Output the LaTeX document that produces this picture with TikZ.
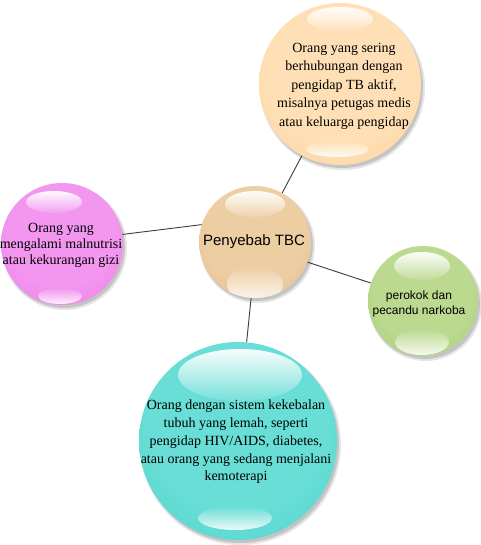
\documentclass[tikz,border=0pt]{standalone}
\usepackage{fontspec}
\setmainfont{Liberation Serif}
\newfontfamily\arialf{Liberation Sans}
\definecolor{oraIn}{RGB}{255,224,182}
\definecolor{oraOut}{RGB}{246,198,140}
\definecolor{cenIn}{RGB}{237,206,163}
\definecolor{cenOut}{RGB}{219,174,122}
\definecolor{magIn}{RGB}{243,150,240}
\definecolor{magOut}{RGB}{226,108,220}
\definecolor{grnIn}{RGB}{188,217,144}
\definecolor{grnOut}{RGB}{158,197,104}
\definecolor{cyaIn}{RGB}{104,222,214}
\definecolor{cyaOut}{RGB}{62,203,195}
\definecolor{connc}{RGB}{60,60,60}
\colorlet{ballin}{white}
\colorlet{ballout}{gray}
\pgfdeclareradialshading[ballin,ballout]{glossy}{\pgfpoint{0bp}{8bp}}{color(0bp)=(ballin); color(22bp)=(ballin); color(50bp)=(ballout)}
\tikzset{
  ballnode/.style={circle, inner sep=0pt, shading=glossy},
  conn/.style={draw=connc, line width=0.9pt},
  sertext/.style={align=center, inner sep=0pt, font=\fontsize{14}{18.5}\selectfont},
  sanstext/.style={align=center, inner sep=0pt, font=\arialf\fontsize{12}{15}\selectfont},
}
% #1 name, #2 x, #3 y, #4 r, #5 inner, #6 outer
\newcommand\glossball[6]{%
  \fill[black,opacity=0.10] (#2+2.5,#3+3.5) circle[radius=#4pt+1.5pt];
  \fill[black,opacity=0.14] (#2+2,#3+3) circle[radius=#4pt];
  \colorlet{ballin}{#5}\colorlet{ballout}{#6}%
  \node[ballnode, minimum size=2*#4pt] (#1) at (#2,#3) {};
}
% top highlight: x y rx ry color
\newcommand\hltop[5]{%
  \shade[top color=white, middle color=white!55!#5, bottom color=#5!90!white, opacity=0.95] (#1,#2) ellipse[x radius=#3pt, y radius=#4pt];
}
% bottom highlight: node, x y rx ry color
\newcommand\hlbot[6]{%
  \begin{scope}
    \clip (#1.center) circle[radius=\csname hlr#1\endcsname pt];
    \shade[top color=#6, bottom color=white!92!#6, opacity=0.95] (#2,#3) ellipse[x radius=#4pt, y radius=#5pt];
  \end{scope}
}
\def\hlrora{81}\def\hlrcen{56}\def\hlrmag{61}\def\hlrgrn{55}\def\hlrcya{99}
\begin{document}
\begin{tikzpicture}[x=1pt,y=-1pt]
\fill[white] (0,0) rectangle (480,545);
\useasboundingbox (0,0) rectangle (480,545);

\glossball{ora}{340}{84}{81}{oraIn}{oraOut}
\glossball{mag}{62}{244}{61}{magIn}{magOut}
\glossball{grn}{423}{301}{55}{grnIn}{grnOut}
\glossball{cya}{238}{441}{99}{cyaIn}{cyaOut}
\glossball{cen}{255}{242}{56}{cenIn}{cenOut}

\hltop{340}{19}{33}{12}{oraIn}
\hlbot{ora}{337}{149}{31}{8}{oraIn}
\hltop{255}{204}{30}{13}{cenIn}
\hlbot{cen}{255}{284}{28}{18}{cenIn}
\hltop{54}{202}{28}{11}{magIn}
\hlbot{mag}{60}{296}{22}{8}{magIn}
\hltop{422}{266}{28}{14}{grnIn}
\hlbot{grn}{422}{342}{27}{13}{grnIn}
\hltop{240}{375}{62}{26}{cyaIn}
\hlbot{cya}{235}{518}{37}{12}{cyaIn}

\draw[conn] (mag.9) -- (cen.162);
\draw[conn] (cen.61) -- (ora.242);
\draw[conn] (cen.-21) -- (grn.161);
\draw[conn] (cen.-94) -- (cya.85);

\node[sertext] (tora) at (344,86) {Orang yang sering\\berhubungan dengan\\pengidap TB aktif,\\misalnya petugas medis\\atau keluarga pengidap};
\node[sertext, font=\fontsize{14}{16}\selectfont] (tmag) at (61,245) {Orang yang\\mengalami malnutrisi\\atau kekurangan gizi};
\node[sertext, font=\fontsize{14}{17.8}\selectfont] (tcya) at (236,442) {Orang dengan sistem kekebalan\\tubuh yang lemah, seperti\\pengidap HIV/AIDS, diabetes,\\atau orang yang sedang menjalani\\kemoterapi};
\node[sanstext] (tgrn) at (419,304) {perokok dan\\pecandu narkoba};
\node[sanstext, font=\arialf\fontsize{15}{18}\selectfont] (tcen) at (254,242) {Penyebab TBC};
\end{tikzpicture}
\end{document}
